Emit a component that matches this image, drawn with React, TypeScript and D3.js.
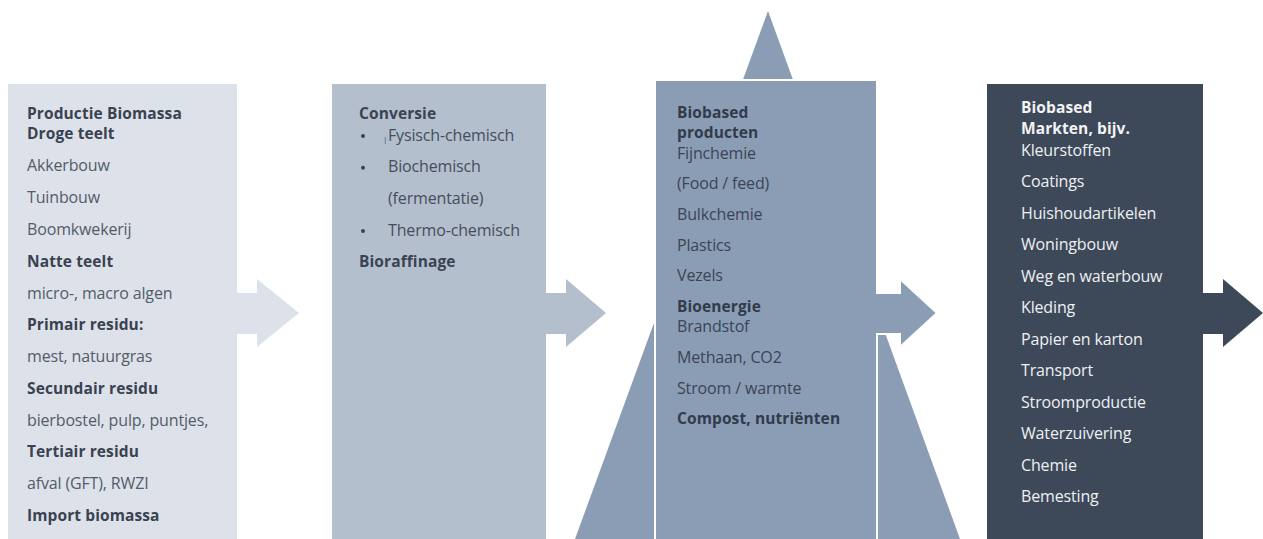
import React from "react";
import * as d3 from "d3";

// ---- content ----
type Line = { t: string; b?: boolean; tight?: boolean; bullet?: boolean; indent?: boolean; mark?: boolean };

const productieLines: Line[] = [
  { t: "Productie Biomassa", b: true },
  { t: "Droge teelt", b: true, tight: true },
  { t: "Akkerbouw" },
  { t: "Tuinbouw" },
  { t: "Boomkwekerij" },
  { t: "Natte teelt", b: true },
  { t: "micro-, macro algen" },
  { t: "Primair residu:", b: true },
  { t: "mest, natuurgras" },
  { t: "Secundair residu", b: true },
  { t: "bierbostel, pulp, puntjes," },
  { t: "Tertiair residu", b: true },
  { t: "afval (GFT), RWZI" },
  { t: "Import biomassa", b: true },
];

const conversieLines: Line[] = [
  { t: "Conversie", b: true },
  { t: "Fysisch-chemisch", bullet: true, tight: true, mark: true },
  { t: "Biochemisch", bullet: true },
  { t: "(fermentatie)", indent: true },
  { t: "Thermo-chemisch", bullet: true },
  { t: "Bioraffinage", b: true },
];

const productenLines: Line[] = [
  { t: "Biobased", b: true },
  { t: "producten", b: true, tight: true },
  { t: "Fijnchemie", tight: true },
  { t: "(Food / feed)" },
  { t: "Bulkchemie" },
  { t: "Plastics" },
  { t: "Vezels" },
  { t: "Bioenergie", b: true },
  { t: "Brandstof", tight: true },
  { t: "Methaan, CO2" },
  { t: "Stroom / warmte" },
  { t: "Compost, nutriënten", b: true },
];

const marktenLines: Line[] = [
  { t: "Biobased", b: true },
  { t: "Markten, bijv.", b: true, tight: true },
  { t: "Kleurstoffen", tight: true },
  { t: "Coatings" },
  { t: "Huishoudartikelen" },
  { t: "Woningbouw" },
  { t: "Weg en waterbouw" },
  { t: "Kleding" },
  { t: "Papier en karton" },
  { t: "Transport" },
  { t: "Stroomproductie" },
  { t: "Waterzuivering" },
  { t: "Chemie" },
  { t: "Bemesting" },
];

// ---- layout ----
const W = 1263;
const H = 539;
const FONT = "'Open Sans', 'Noto Sans', sans-serif";

type Box = {
  x0: number; x1: number; y0: number; fill: string;
  textX: number; startY: number; tight: number; normal: number;
  boldColor: string; textColor: string; lines: Line[];
  arrow: { headX: number; tipX: number };
  stroke?: boolean;
};

const boxes: Box[] = [
  { x0: 8, x1: 237, y0: 84, fill: "#dde2ea", textX: 27, startY: 114, tight: 20, normal: 31.8,
    boldColor: "#3a4251", textColor: "#535b69", lines: productieLines, arrow: { headX: 257, tipX: 299 } },
  { x0: 332, x1: 546, y0: 84, fill: "#b4bfcd", textX: 359, startY: 114, tight: 21, normal: 31.7,
    boldColor: "#3a4353", textColor: "#454d5d", lines: conversieLines, arrow: { headX: 566, tipX: 606 } },
  { x0: 655, x1: 877, y0: 80, fill: "#8b9db5", textX: 677, startY: 113, tight: 20, normal: 30.7,
    boldColor: "#313b4b", textColor: "#3a4456", lines: productenLines, arrow: { headX: 900, tipX: 937 }, stroke: true },
  { x0: 987, x1: 1203, y0: 84, fill: "#3d4859", textX: 1021, startY: 108, tight: 21, normal: 31.5,
    boldColor: "#f2f3f5", textColor: "#eef0f3", lines: marktenLines, arrow: { headX: 1223, tipX: 1263 } },
];

const STEM_TOP = 293;
const STEM_BOT = 334;
const HEAD_TOP = 279;
const HEAD_BOT = 347;
const TIP_Y = 313;

const apex: [number, number] = [768, 11];
const baseL: [number, number] = [575, H];
const baseR: [number, number] = [960, H];

function linePositions(box: Box): number[] {
  const ys: number[] = [];
  let y = box.startY;
  box.lines.forEach((l, i) => {
    if (i > 0) y += l.tight ? box.tight : box.normal;
    ys.push(y);
  });
  return ys;
}

const lineGen = d3.line<[number, number]>().curve(d3.curveLinearClosed);

function arrowPath(x0: number, headX: number, tipX: number) {
  const pts: [number, number][] = [
    [x0, STEM_TOP], [headX, STEM_TOP], [headX, HEAD_TOP], [tipX, TIP_Y],
    [headX, HEAD_BOT], [headX, STEM_BOT], [x0, STEM_BOT],
  ];
  return lineGen(pts) as string;
}

export default function App() {
  const tri = lineGen([apex, baseR, baseL]) as string;
  return (
    <svg width={W} height={H} style={{ position: "absolute", left: 0, top: 0, display: "block", background: "#fff" }}
      fontFamily={FONT}>
      <path d={tri} fill="#8b9db5" />
      {boxes.map((box, bi) => {
        const ys = linePositions(box);
        return (
          <g key={bi}>
            <rect x={box.x0} y={box.y0} width={box.x1 - box.x0} height={H - box.y0 + 20} fill={box.fill}
              stroke={box.stroke ? "#fff" : "none"} strokeWidth={box.stroke ? 2 : 0} />
            <path d={arrowPath(box.x1, box.arrow.headX, box.arrow.tipX)} fill={box.fill}
              stroke={box.stroke ? "#fff" : "none"} strokeWidth={box.stroke ? 2 : 0} />
            {box.stroke && (
              <rect x={box.x1 - 2} y={STEM_TOP + 1} width={5} height={STEM_BOT - STEM_TOP - 2} fill={box.fill} />
            )}
            {box.lines.map((l, i) => {
              const x = l.bullet || l.indent ? box.textX + 29 : box.textX;
              return (
                <g key={i}>
                  {l.bullet && (
                    <circle cx={box.textX + 4} cy={ys[i] + 1} r={2} fill={box.boldColor} />
                  )}
                  {l.mark && (
                    <text x={box.textX + 24} y={ys[i] + 4} dy="0.35em" fontSize={8} fill={box.textColor}>|</text>
                  )}
                  <text x={x} y={ys[i]} dy="0.35em" fontSize={l.b ? 15.5 : 16}
                    fontWeight={l.b ? 700 : 400} letterSpacing={l.b ? 0.1 : -0.15}
                    fill={l.b ? box.boldColor : box.textColor}>{l.t}</text>
                </g>
              );
            })}
          </g>
        );
      })}
    </svg>
  );
}
